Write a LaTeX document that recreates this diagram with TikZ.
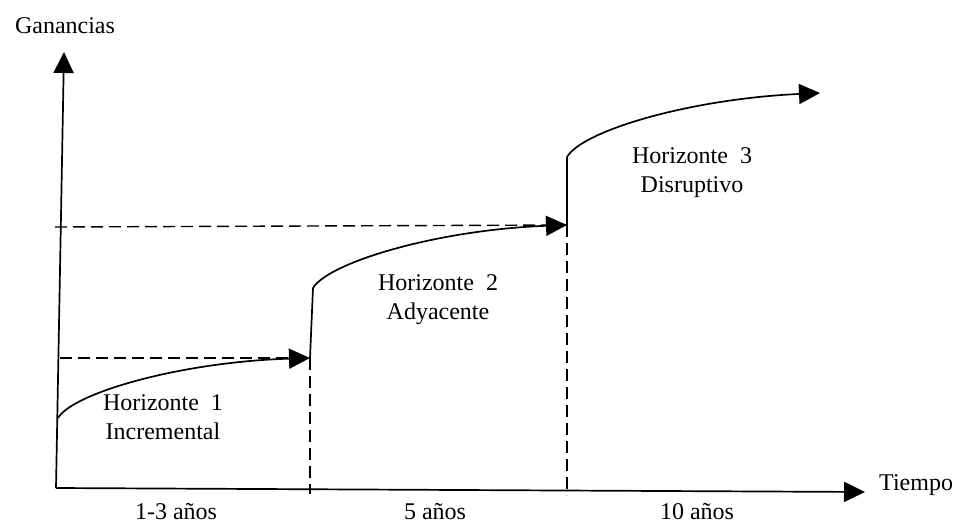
\documentclass[tikz,border=0pt]{standalone}
\usepackage{fontspec}
\setmainfont{Liberation Serif}
\usetikzlibrary{arrows.meta,calc}
\begin{document}
\begin{tikzpicture}[x=1pt,y=-1pt,
  axis/.style={line width=1.7pt,-{Triangle[length=21pt,width=20pt]}},
  growth/.style={line width=1.7pt,-{Triangle[length=21pt,width=20pt]}},
  guide/.style={line width=1.4pt,dash pattern=on 12pt off 6pt},
  lbl/.style={font=\fontsize{24}{28}\selectfont,inner sep=0pt,align=center}]
\useasboundingbox (0,0) rectangle (957,524);

% axes
\coordinate (O) at (56,488);
\coordinate (ytop) at (64,52);
\coordinate (xend) at (865,492);
\draw[axis] (O) -- (ytop);
\draw[axis] (O) -- (xend);
\node[lbl] (yl) at (65,26) {Ganancias};
\node[lbl,anchor=west] (xl) at (879,485) {Tiempo};

% key points of the three horizons
\coordinate (s1) at (58,418);
\coordinate (e1) at (310,358);
\coordinate (s2) at (313,288);
\coordinate (e2) at (567,225);
\coordinate (s3) at (567,157);
\coordinate (e3) at (820,93);

% guide lines
\coordinate (h1) at (60,358);
\coordinate (h2) at (55,227);
\coordinate (b1) at (310,494);
\coordinate (b2) at (567,495);
\draw[guide] (h1) -- (e1);
\draw[guide] (h2) -- (e2);
\draw[guide] (e1) -- (b1);
\draw[guide] (e2) -- (b2);

% growth curves
\draw[growth] (s1) .. controls ++(15,-25) and ($(s1)+(122,-56)$) .. (e1);
\draw[line width=1.7pt] (e1) -- (s2);
\draw[growth] (s2) .. controls ++(15,-25) and ($(s2)+(122,-58)$) .. (e2);
\draw[line width=1.7pt] (e2) -- (s3);
\draw[growth] (s3) .. controls ++(15,-26) and ($(s3)+(122,-58)$) .. (e3);

% horizon labels
\node[lbl] (t1) at (163,417) {Horizonte~~1\\[1pt]Incremental};
\node[lbl] (t2) at (438,300) {Horizonte~~2\\[1pt]Adyacente};
\node[lbl] (t3) at (692,173) {Horizonte~~3\\[1pt]Disruptivo};

% time spans
\node[lbl] (p1) at (176,512) {1-3 años};
\node[lbl] (p2) at (435,512) {5 años};
\node[lbl] (p3) at (697,512) {10 años};
\end{tikzpicture}
\end{document}
